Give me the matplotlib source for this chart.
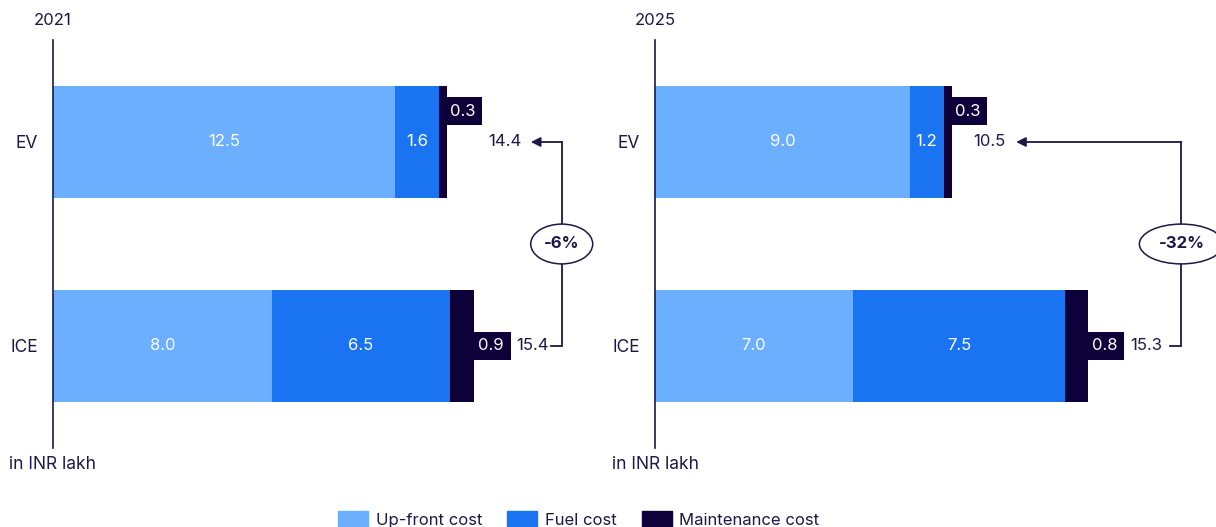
import matplotlib
matplotlib.use("Agg")
import matplotlib.pyplot as plt
from matplotlib.patches import Patch, Ellipse
import numpy as np

plt.rcParams['font.family'] = ['Inter', 'DejaVu Sans']

years = ["2021", "2025"]
categories = ["EV", "ICE"]
series_names = ["Up-front cost", "Fuel cost", "Maintenance cost"]
upfront = {"2021": [12.5, 8.0], "2025": [9.0, 7.0]}
fuel = {"2021": [1.6, 6.5], "2025": [1.2, 7.5]}
maintenance = {"2021": [0.3, 0.9], "2025": [0.3, 0.8]}
totals = {"2021": [14.4, 15.4], "2025": [10.5, 15.3]}
changes = {"2021": "-6%", "2025": "-32%"}
unit_label = "in INR lakh"

C_UP = "#6caeff"
C_FUEL = "#1a74f2"
C_MAINT = "#0e0038"
C_TEXT = "#1d1848"

W, H = 1216, 527
fig = plt.figure(figsize=(W / 100, H / 100), dpi=100)

# layout in pixels: (axes left, axes width)
panels = [(53, 547), (655, 566)]
ax_top, ax_bot = 40, 448
ev_total_offset_px = {"2021": 41, "2025": 21}
ellipse_w_px = {"2021": 62, "2025": 84}

for (left, width), yr in zip(panels, years):
    ax = fig.add_axes([left / W, (H - ax_bot) / H, width / W, (ax_bot - ax_top) / H])
    xmax = 20.0
    ax.set_xlim(0, xmax)
    ax.set_ylim(1.5, -0.5)
    pxu = width / xmax  # px per unit
    pyu = 205.0         # px per y unit
    y = np.arange(len(categories))
    h = 0.55
    up = np.array(upfront[yr]); fu = np.array(fuel[yr]); ma = np.array(maintenance[yr])
    ax.barh(y, up, height=h, color=C_UP)
    ax.barh(y, fu, left=up, height=h, color=C_FUEL)
    ax.barh(y, ma, left=up + fu, height=h, color=C_MAINT)
    for i in range(len(categories)):
        ax.text(up[i] / 2, y[i], f"{up[i]:.1f}", ha="center", va="center", color="white", fontsize=12)
        ax.text(up[i] + fu[i] / 2, y[i], f"{fu[i]:.1f}", ha="center", va="center", color="white", fontsize=12)
        tot = totals[yr][i]
        if i == 0:
            mx = up[i] + fu[i] + 24 / pxu
            my = y[i] - 31 / pyu
            tx = tot + ev_total_offset_px[yr] / pxu
        else:
            mx = tot + 17 / pxu
            my = y[i]
            tx = tot + 42 / pxu
        ax.text(mx, my, f"{ma[i]:.1f}", ha="center", va="center", color="white", fontsize=12,
                bbox=dict(boxstyle="square,pad=0.4", fc=C_MAINT, ec="none"), clip_on=False)
        ax.text(tx, y[i], f"{tot:.1f}", ha="left", va="center", color=C_TEXT, fontsize=12, clip_on=False)
        if i == 0:
            ev_label_end = tx + 35 / pxu
    # bracket arrow
    bx = 18.6
    ax.plot([bx - 11 / pxu, bx, bx], [1, 1, 0], color=C_TEXT, lw=1.3, clip_on=False,
            solid_joinstyle="miter")
    ax.annotate("", xy=(ev_label_end + 8 / pxu, 0), xytext=(bx, 0),
                arrowprops=dict(arrowstyle="-|>", color=C_TEXT, lw=1.3, mutation_scale=14,
                                shrinkA=0, shrinkB=0), annotation_clip=False)
    ell = Ellipse((bx, 0.5), ellipse_w_px[yr] / pxu, 40 / pyu, fc="white", ec=C_TEXT, lw=1.1,
                  clip_on=False, zorder=5)
    ax.add_patch(ell)
    ax.text(bx, 0.5, changes[yr], ha="center", va="center", color=C_TEXT, fontsize=12,
            fontweight="bold", zorder=6, clip_on=False)

    ax.set_yticks(y)
    ax.set_yticklabels(categories, fontsize=12.5, color=C_TEXT)
    ax.tick_params(axis="y", length=0, pad=11)
    ax.set_xticks([])
    for s in ["top", "right", "bottom"]:
        ax.spines[s].set_visible(False)
    ax.spines["left"].set_color(C_TEXT)
    ax.spines["left"].set_linewidth(1.2)
    ax.text(0, -0.5 - 20 / pyu, yr, ha="center", va="center", fontsize=12, color=C_TEXT, clip_on=False)
    ax.text(0, 1.5 + 17 / pyu, unit_label, ha="center", va="center", fontsize=12.5, color=C_TEXT, clip_on=False)

handles = [Patch(color=c, label=n) for c, n in zip([C_UP, C_FUEL, C_MAINT], series_names)]
leg = fig.legend(handles=handles, loc="lower center", bbox_to_anchor=(0.476, -0.03), ncol=3,
                 frameon=False, fontsize=12, handlelength=1.8, handleheight=1.2,
                 columnspacing=1.5, handletextpad=0.45)
for t in leg.get_texts():
    t.set_color(C_TEXT)

fig.savefig("out.png", dpi=100)
